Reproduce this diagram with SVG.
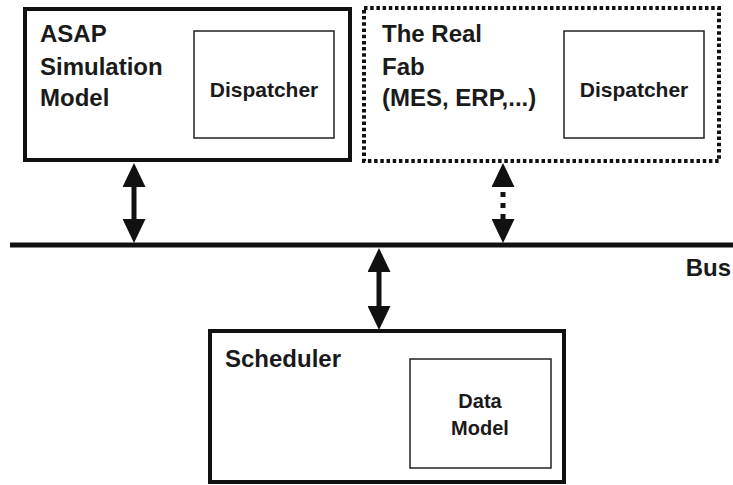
<svg xmlns="http://www.w3.org/2000/svg" width="733" height="485" viewBox="0 0 733 485">
<style>
  .t { font-family: "Liberation Sans", Arial, sans-serif; font-weight: bold; fill: #1a1a1a; }
  .big { font-size: 24px; }
  .mid { font-size: 21px; }
  .sm { font-size: 20px; }
  .outer { fill: #fff; stroke: #111; stroke-width: 4; }
  .dotted { fill: #fff; stroke: #111; stroke-width: 4; stroke-dasharray: 3.5 2.7; }
  .inner { fill: #fff; stroke: #222; stroke-width: 1.5; }
  .shaft { stroke: #111; stroke-width: 5; fill: none; }
</style>
<defs>
  <marker id="head" markerUnits="userSpaceOnUse" markerWidth="24" markerHeight="23" viewBox="0 0 24 23" refX="0" refY="11.5" orient="auto-start-reverse">
    <path d="M0,0 L24,11.5 L0,23 Z" fill="#111"/>
  </marker>
</defs>
<rect width="733" height="485" fill="#fff"/>

<g id="asap">
  <rect class="outer" x="25" y="9" width="325" height="151"/>
  <text class="t big" x="40" y="42">ASAP</text>
  <text class="t big" x="40" y="75">Simulation</text>
  <text class="t big" x="40" y="106">Model</text>
  <g id="dispatcher1">
    <rect class="inner" x="194" y="31" width="140" height="107"/>
    <text class="t mid" x="264" y="97" text-anchor="middle">Dispatcher</text>
  </g>
</g>

<g id="realfab">
  <rect class="dotted" x="364" y="8" width="355" height="153"/>
  <text class="t big" x="382" y="42">The Real</text>
  <text class="t big" x="382" y="75">Fab</text>
  <text class="t big" x="382" y="106">(MES, ERP,...)</text>
  <g id="dispatcher2">
    <rect class="inner" x="564" y="31" width="140" height="107"/>
    <text class="t mid" x="634" y="97" text-anchor="middle">Dispatcher</text>
  </g>
</g>

<g id="bus">
  <line class="shaft" x1="10" y1="245" x2="733" y2="245"/>
  <text class="t big" x="731" y="276" text-anchor="end">Bus</text>
</g>

<g id="scheduler">
  <rect class="outer" x="210" y="331" width="354" height="151"/>
  <text class="t big" x="225" y="367">Scheduler</text>
  <g id="datamodel">
    <rect class="inner" x="410" y="359" width="141" height="109"/>
    <text class="t sm" x="480" y="408" text-anchor="middle">Data</text>
    <text class="t sm" x="480" y="435" text-anchor="middle">Model</text>
  </g>
</g>

<g id="connectors">
  <line class="shaft" x1="134" y1="187" x2="134" y2="219" marker-start="url(#head)" marker-end="url(#head)"/>
  <line class="shaft" x1="503" y1="187" x2="503" y2="219" stroke-dasharray="5 6" stroke-dashoffset="6" marker-start="url(#head)" marker-end="url(#head)"/>
  <line class="shaft" x1="379" y1="272" x2="379" y2="306" marker-start="url(#head)" marker-end="url(#head)"/>
</g>
</svg>
